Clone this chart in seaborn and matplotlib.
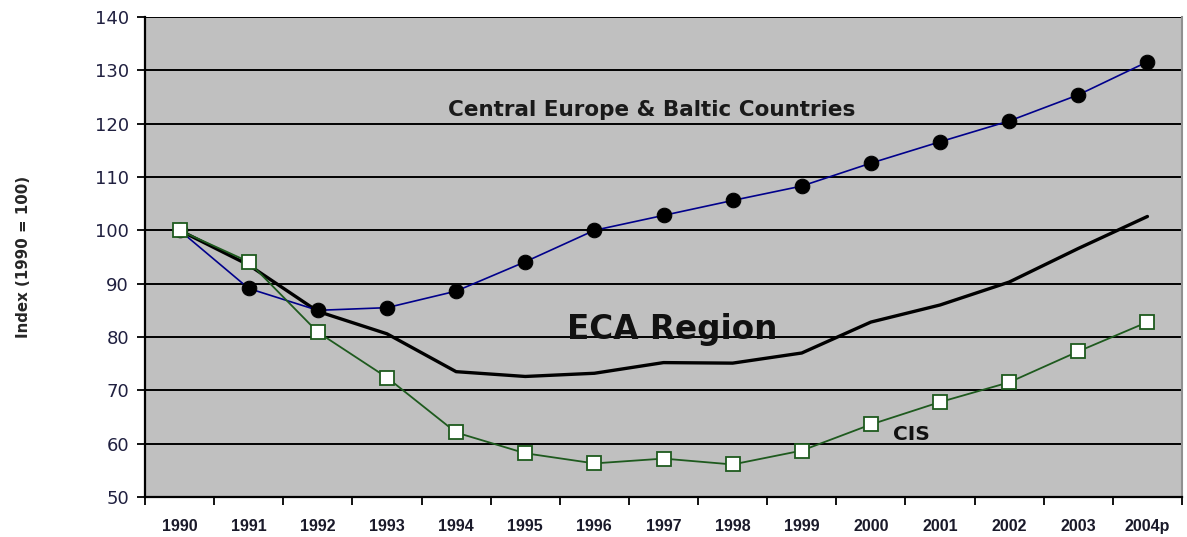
import numpy as np
import pandas as pd
import seaborn as sns
import matplotlib.pyplot as plt

years = ['1990', '1991', '1992', '1993', '1994', '1995', '1996', '1997',
         '1998', '1999', '2000', '2001', '2002', '2003', '2004p']
central_europe = [100, 89.1, 85.0, 85.5, 88.6, 94.1, 100.0, 102.8,
                  105.6, 108.3, 112.6, 116.6, 120.5, 125.4, 131.6]
eca_region = [100, 93.5, 84.8, 80.6, 73.5, 72.6, 73.2, 75.2,
              75.1, 77.0, 82.8, 86.0, 90.3, 96.6, 102.6]
cis = [100, 94.1, 80.9, 72.4, 62.1, 58.2, 56.3, 57.2,
       56.1, 58.7, 63.6, 67.8, 71.5, 77.3, 82.8]

sns.set_style('white')
plt.rcParams['font.family'] = ['Liberation Sans', 'DejaVu Sans']

df = pd.DataFrame({'pos': np.arange(len(years)),
                   'ce': central_europe, 'eca': eca_region, 'cis': cis})

fig = plt.figure(figsize=(11.87, 5.37), dpi=100)
ax = fig.add_axes([145 / 1187, 40 / 537, 1037 / 1187, 480 / 537])
ax.set_facecolor('#c0c0c0')

# horizontal grid lines, Excel style
for v in range(60, 150, 10):
    ax.axhline(v, color='black', lw=1.4, zorder=1)

sns.lineplot(data=df, x='pos', y='eca', ax=ax, color='black', lw=2.4, zorder=3)
sns.lineplot(data=df, x='pos', y='ce', ax=ax, color='#00008b', lw=1.2,
             marker='o', markersize=10.5, markerfacecolor='black',
             markeredgecolor='black', zorder=4)
sns.lineplot(data=df, x='pos', y='cis', ax=ax, color='#1e5a1e', lw=1.3,
             marker='s', markersize=9.5, markerfacecolor='white',
             markeredgecolor='#1e5a1e', markeredgewidth=1.3, zorder=5)

ax.text(6.83, 122.6, 'Central Europe & Baltic Countries', fontsize=15.5,
        family='DejaVu Sans', fontweight='bold', ha='center', va='center',
        color='#1a1a1a')
ax.text(7.13, 81.4, 'ECA Region', fontsize=23.5, family='DejaVu Sans',
        fontweight='bold', ha='center', va='center', color='#111111')
ax.text(10.59, 61.8, 'CIS', fontsize=14.5, family='DejaVu Sans',
        fontweight='bold', ha='center', va='center', color='#111111')

ax.set_xlim(-0.5, len(years) - 0.5)
ax.set_ylim(50, 140)
ax.set_yticks(range(50, 150, 10))
ax.set_yticklabels([str(v) for v in range(50, 150, 10)], fontsize=13,
                   family='DejaVu Sans', color='#202040')
ax.set_xticks(df['pos'])
ax.set_xticklabels(years, fontsize=11.5, fontweight='bold', color='#1a1a2a')
ax.set_xticks(np.arange(-0.5, len(years), 1), minor=True)
ax.tick_params(axis='x', which='major', length=0, pad=16)
ax.tick_params(axis='x', which='minor', length=6, width=1.3, color='black',
               direction='out', bottom=True)
ax.tick_params(axis='y', length=6, width=1.3, color='black', direction='out',
               left=True, pad=5.5)
ax.set_xlabel('')
ax.set_ylabel('Index (1990 = 100)', fontsize=10.8, family='DejaVu Sans',
              fontweight='bold', labelpad=46)

for side in ['left', 'bottom']:
    ax.spines[side].set_color('black')
    ax.spines[side].set_linewidth(1.6)
ax.spines['top'].set_visible(False)
ax.spines['right'].set_color('#909090')
ax.spines['right'].set_linewidth(1.5)

fig.savefig('out.png', dpi=100)
